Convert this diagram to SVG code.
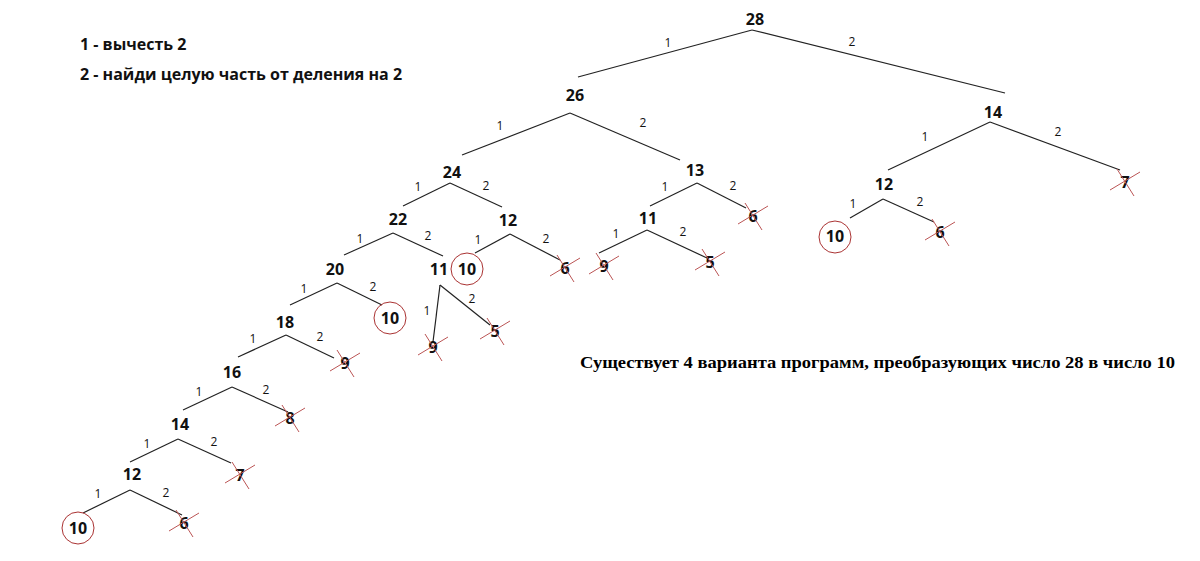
<svg xmlns="http://www.w3.org/2000/svg" xmlns:xlink="http://www.w3.org/1999/xlink" width="1200" height="561" viewBox="0 0 1200 561">
<style>
.n{font-family:"Open Sans","DejaVu Sans",sans-serif;font-weight:bold;font-size:16px;text-anchor:middle;fill:#111}
.l{font-family:"Open Sans","DejaVu Sans",sans-serif;font-size:12px;text-anchor:middle;fill:#111}
.e line{stroke:#222;stroke-width:1.2}
.c{fill:none;stroke:#a33;stroke-width:1}
.x line{stroke:#b55;stroke-width:1}
</style>
<defs>
<g id="X" class="x"><line x1="-15" y1="8" x2="15" y2="-10"/><line x1="-8" y1="-13" x2="9" y2="14"/></g>
</defs>
<rect width="1200" height="561" fill="#fff"/>
<text x="80" y="50" class="n" style="text-anchor:start;font-size:16px">1 - вычесть 2</text>
<text x="80" y="80" class="n" style="text-anchor:start;font-size:16px">2 - найди целую часть от деления на 2</text>
<text x="580" y="368" style="font-family:'Liberation Serif',serif;font-weight:bold;font-size:17px" textLength="595" lengthAdjust="spacingAndGlyphs">Существует 4 варианта программ, преобразующих число 28 в число 10</text>
<g class="e" id="connectors">
<line x1="752" y1="30" x2="578" y2="77"/><line x1="752" y1="30" x2="1005" y2="93"/>
<line x1="570" y1="113" x2="462" y2="155"/><line x1="570" y1="113" x2="680" y2="160"/>
<line x1="990" y1="122" x2="888" y2="170"/><line x1="990" y1="122" x2="1120" y2="170"/>
<line x1="450" y1="183" x2="403" y2="206"/><line x1="450" y1="183" x2="502" y2="207"/>
<line x1="697" y1="183" x2="650" y2="206"/><line x1="697" y1="183" x2="746" y2="208"/>
<line x1="883" y1="199" x2="850" y2="218"/><line x1="883" y1="199" x2="934" y2="222"/>
<line x1="393" y1="233" x2="344" y2="255"/><line x1="393" y1="233" x2="443" y2="256"/>
<line x1="510" y1="234" x2="475" y2="253"/><line x1="510" y1="234" x2="560" y2="260"/>
<line x1="647" y1="230" x2="599" y2="253"/><line x1="647" y1="230" x2="707" y2="258"/>
<line x1="337" y1="283" x2="290" y2="305"/><line x1="337" y1="283" x2="382" y2="305"/>
<line x1="440" y1="285" x2="433" y2="342"/><line x1="440" y1="285" x2="490" y2="325"/>
<line x1="286" y1="335" x2="238" y2="357"/><line x1="286" y1="335" x2="334" y2="358"/>
<line x1="232" y1="387" x2="183" y2="410"/><line x1="232" y1="387" x2="288" y2="412"/>
<line x1="178" y1="439" x2="130" y2="462"/><line x1="178" y1="439" x2="231" y2="463"/>
<line x1="130" y1="490" x2="83" y2="513"/><line x1="130" y1="490" x2="182" y2="515"/>
<g class="lbl">
<text class="l" x="668" y="47">1</text><text class="l" x="852" y="46">2</text>
<text class="l" x="500" y="130">1</text><text class="l" x="643" y="127">2</text>
<text class="l" x="925" y="141">1</text><text class="l" x="1058" y="136">2</text>
<text class="l" x="418" y="191">1</text><text class="l" x="486" y="190">2</text>
<text class="l" x="665" y="191">1</text><text class="l" x="733" y="190">2</text>
<text class="l" x="853" y="208">1</text><text class="l" x="920" y="206">2</text>
<text class="l" x="360" y="243">1</text><text class="l" x="428" y="240">2</text>
<text class="l" x="478" y="244">1</text><text class="l" x="546" y="243">2</text>
<text class="l" x="616" y="238">1</text><text class="l" x="683" y="236">2</text>
<text class="l" x="304" y="293">1</text><text class="l" x="373" y="291">2</text>
<text class="l" x="427" y="315">1</text><text class="l" x="472" y="303">2</text>
<text class="l" x="253" y="343">1</text><text class="l" x="320" y="341">2</text>
<text class="l" x="199" y="396">1</text><text class="l" x="266" y="394">2</text>
<text class="l" x="147" y="448">1</text><text class="l" x="214" y="446">2</text>
<text class="l" x="98" y="498">1</text><text class="l" x="166" y="497">2</text>
</g>
</g>
<g id="n28"><text class="n" x="755" y="25">28</text></g>
<g id="n26"><text class="n" x="575" y="101">26</text></g>
<g id="n14r"><text class="n" x="993" y="118">14</text></g>
<g id="n24"><text class="n" x="452" y="178">24</text></g>
<g id="n13"><text class="n" x="695" y="176">13</text></g>
<g id="n12r"><text class="n" x="884" y="190">12</text></g>
<g id="n7r"><text class="n" x="1125" y="188">7</text><use xlink:href="#X" x="1125" y="182"/></g>
<g id="n22"><text class="n" x="398" y="225">22</text></g>
<g id="n12a"><text class="n" x="508" y="226">12</text></g>
<g id="n11b"><text class="n" x="648" y="224">11</text></g>
<g id="n6b"><text class="n" x="753" y="222">6</text><use xlink:href="#X" x="753" y="216"/></g>
<g id="n10r"><text class="n" x="835" y="242">10</text><circle class="c" cx="835" cy="237" r="16"/></g>
<g id="n6r"><text class="n" x="940" y="238">6</text><use xlink:href="#X" x="940" y="232"/></g>
<g id="n20"><text class="n" x="335" y="275">20</text></g>
<g id="n11a"><text class="n" x="439" y="275">11</text></g>
<g id="n10a"><text class="n" x="467" y="275">10</text><circle class="c" cx="467" cy="269" r="16"/></g>
<g id="n6a"><text class="n" x="565" y="274">6</text><use xlink:href="#X" x="565" y="268"/></g>
<g id="n9b"><text class="n" x="604" y="272">9</text><use xlink:href="#X" x="604" y="266"/></g>
<g id="n5b"><text class="n" x="710" y="268">5</text><use xlink:href="#X" x="710" y="262"/></g>
<g id="n18"><text class="n" x="285" y="328">18</text></g>
<g id="n10c"><text class="n" x="390" y="324">10</text><circle class="c" cx="390" cy="318" r="16"/></g>
<g id="n9a"><text class="n" x="433" y="353">9</text><use xlink:href="#X" x="433" y="347"/></g>
<g id="n5a"><text class="n" x="495" y="337">5</text><use xlink:href="#X" x="495" y="331"/></g>
<g id="n16"><text class="n" x="232" y="378">16</text></g>
<g id="n9c"><text class="n" x="345" y="369">9</text><use xlink:href="#X" x="345" y="363"/></g>
<g id="n14L"><text class="n" x="180" y="430">14</text></g>
<g id="n8"><text class="n" x="290" y="424">8</text><use xlink:href="#X" x="290" y="418"/></g>
<g id="n12L"><text class="n" x="132" y="480">12</text></g>
<g id="n7L"><text class="n" x="240" y="481">7</text><use xlink:href="#X" x="240" y="475"/></g>
<g id="n10L"><text class="n" x="78" y="534">10</text><circle class="c" cx="78" cy="528" r="16"/></g>
<g id="n6L"><text class="n" x="184" y="529">6</text><use xlink:href="#X" x="184" y="523"/></g>
</svg>
